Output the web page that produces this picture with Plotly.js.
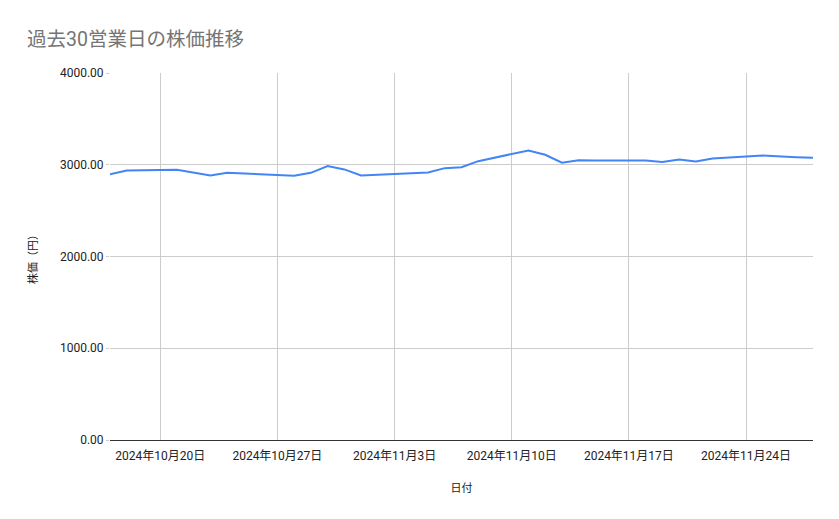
<!DOCTYPE html>
<html>
<head>
<meta charset="utf-8">
<script src="https://cdn.plot.ly/plotly-3.0.1.min.js"></script>
<style>
  html, body { margin: 0; padding: 0; background: #fff; }
  #chart { width: 839px; height: 519px; }
</style>
</head>
<body>
<div id="chart"></div>
<script>
// 30 business days (11/4 is a holiday)
var dates = [
  '2024-10-17', '2024-10-18', '2024-10-21', '2024-10-22', '2024-10-23',
  '2024-10-24', '2024-10-25', '2024-10-28', '2024-10-29', '2024-10-30',
  '2024-10-31', '2024-11-01', '2024-11-05', '2024-11-06', '2024-11-07',
  '2024-11-08', '2024-11-11', '2024-11-12', '2024-11-13', '2024-11-14',
  '2024-11-15', '2024-11-18', '2024-11-19', '2024-11-20', '2024-11-21',
  '2024-11-22', '2024-11-25', '2024-11-26', '2024-11-27', '2024-11-28'
];
var prices = [
  2895, 2938, 2945, 2915, 2883,
  2912, 2905, 2880, 2912, 2985,
  2949, 2883, 2916, 2963, 2974,
  3039, 3156, 3109, 3022, 3050,
  3047, 3047, 3030, 3058, 3036,
  3069, 3100, 3095, 3083, 3076
];
var yTicks = [0, 1000, 2000, 3000, 4000];

var fontFamily = 'Roboto, "Noto Sans CJK JP", sans-serif';

var trace = {
  x: dates,
  y: prices,
  type: 'scatter',
  mode: 'lines',
  line: { color: '#4285f4', width: 2 },
  hoverinfo: 'x+y'
};

var layout = {
  width: 839,
  height: 519,
  paper_bgcolor: '#ffffff',
  plot_bgcolor: '#ffffff',
  margin: { l: 110, r: 26, t: 73, b: 79 },
  showlegend: false,
  font: { family: fontFamily, size: 12, color: '#222222' },
  title: {
    text: '過去30営業日の株価推移',
    font: { family: fontFamily, size: 19.5, color: '#757575' },
    x: 27 / 839,
    xanchor: 'left',
    xref: 'container',
    y: 1 - 39 / 519,
    yanchor: 'middle',
    yref: 'container'
  },
  xaxis: {
    type: 'date',
    range: ['2024-10-17', '2024-11-28'],
    tick0: '2024-10-20',
    dtick: 7 * 24 * 60 * 60 * 1000,
    tickformat: '%Y年%-m月%-d日',
    tickfont: { family: fontFamily, size: 12, color: '#222222' },
    showgrid: true,
    gridcolor: '#cccccc',
    gridwidth: 1,
    showline: false,
    ticks: 'outside',
    ticklen: 5,
    tickcolor: 'rgba(0,0,0,0)',
    title: {
      text: '日付',
      font: { family: fontFamily, size: 11, color: '#222222' },
      standoff: 21
    }
  },
  yaxis: {
    range: [0, 4000],
    tickvals: yTicks,
    tickformat: '.2f',
    tickfont: { family: fontFamily, size: 12, color: '#222222' },
    showgrid: true,
    gridcolor: '#cccccc',
    gridwidth: 1,
    zeroline: true,
    zerolinecolor: '#333333',
    zerolinewidth: 1,
    ticks: 'outside',
    ticklen: 3,
    tickcolor: '#cccccc',
    title: {
      text: '株価（円）',
      font: { family: fontFamily, size: 11, color: '#222222' },
      standoff: 20
    }
  }
};

Plotly.newPlot('chart', [trace], layout, { displayModeBar: false, staticPlot: true });
</script>
</body>
</html>
